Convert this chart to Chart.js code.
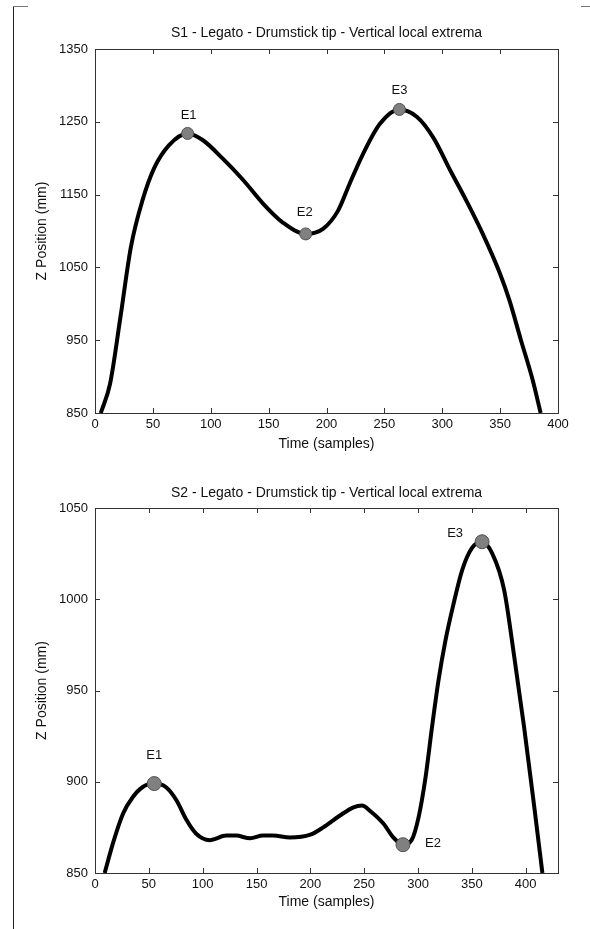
<!DOCTYPE html>
<html>
<head>
<meta charset="utf-8">
<script src="https://cdn.jsdelivr.net/npm/chart.js@4"></script>
<style>
  html, body { margin: 0; padding: 0; background: #fff; }
  body { width: 590px; height: 929px; position: relative; overflow: hidden; }
  canvas { position: absolute; left: 0; }
  #c1 { top: 0; }
  #c2 { top: 465px; }
  .frame { position: absolute; }
</style>
</head>
<body>
<div class="frame" style="left:13px;top:6px;width:1px;height:923px;background:#222"></div>
<div class="frame" style="left:13px;top:6px;width:15px;height:1px;background:#777"></div>
<div class="frame" style="left:581px;top:6px;width:9px;height:1px;background:#777"></div>
<canvas id="c1" width="590" height="465"></canvas>
<canvas id="c2" width="590" height="464"></canvas>
<script>
// S1 curve (time in samples, Z in mm)
const s1Time = [5, 13, 22, 31, 41, 51, 64, 80, 93, 110, 128, 145, 162, 182, 197, 210, 220, 231, 246, 263, 278, 292, 308, 321, 335, 350, 358, 368, 378, 385];
const s1Z = [850, 890, 982, 1078, 1142, 1186, 1218, 1234, 1225, 1200, 1170, 1138, 1112, 1096, 1103, 1128, 1165, 1204, 1247, 1267, 1257, 1229, 1180, 1141, 1096, 1041, 1005, 950, 896, 850];
const s1ExtTime = [80, 182, 263];
const s1ExtZ = [1234, 1096, 1267];

// S2 curve
const s2Time = [9, 16.5, 26, 35, 44, 55, 66, 75.5, 85, 94, 106.5, 122, 131, 144, 156, 165.5, 181, 200, 212, 227.5, 240, 248, 255.5, 268, 277, 286, 294, 300.5, 307, 313, 319, 325.5, 333, 341, 350, 359.5, 369, 380, 389, 398.5, 408, 415.5];
const s2Z = [850, 866, 882.5, 891.5, 897, 899, 897, 890, 879, 871.5, 868, 870.5, 870.5, 869, 870.5, 870.5, 869.5, 871, 875, 881.5, 886, 887, 884, 877, 869.5, 865.5, 868, 880.5, 902.5, 930, 955.5, 977.5, 997.5, 1016, 1028, 1031.5, 1025, 1005, 970, 930, 886, 850];
const s2ExtTime = [55, 286, 359.5];
const s2ExtZ = [899, 865.5, 1031.5];

const extLabels = ['E1', 'E2', 'E3'];
const s1XTicks = [0, 50, 100, 150, 200, 250, 300, 350, 400];
const s1YTicks = [850, 950, 1050, 1150, 1250, 1350];
const s2XTicks = [0, 50, 100, 150, 200, 250, 300, 350, 400];
const s2YTicks = [850, 900, 950, 1000, 1050];

const FONT = 'Arial, "Liberation Sans", Helvetica, sans-serif';

// MATLAB-like box with inward ticks plus extrema labels
const matlabAxes = {
  id: 'matlabAxes',
  afterDraw(chart, args, opts) {
    const ctx = chart.ctx;
    const a = chart.chartArea;
    const xs = chart.scales.x, ys = chart.scales.y;
    ctx.save();
    ctx.strokeStyle = '#333';
    ctx.lineWidth = 1;
    ctx.strokeRect(Math.round(a.left) + 0.5, Math.round(a.top) + 0.5,
      Math.round(a.right - a.left), Math.round(a.bottom - a.top));
    ctx.beginPath();
    xs.ticks.forEach((t, i) => {
      const px = Math.round(xs.getPixelForTick(i)) + 0.5;
      ctx.moveTo(px, a.bottom); ctx.lineTo(px, a.bottom - 5);
      ctx.moveTo(px, a.top); ctx.lineTo(px, a.top + 5);
    });
    ys.ticks.forEach((t, i) => {
      const py = Math.round(ys.getPixelForTick(i)) + 0.5;
      ctx.moveTo(a.left, py); ctx.lineTo(a.left + 5, py);
      ctx.moveTo(a.right, py); ctx.lineTo(a.right - 5, py);
    });
    ctx.stroke();

    ctx.fillStyle = '#111';
    ctx.font = '13px ' + FONT;
    ctx.textAlign = 'center';
    ctx.textBaseline = 'middle';
    opts.times.forEach((t, i) => {
      const px = xs.getPixelForValue(t) + opts.offsets[i][0];
      const py = ys.getPixelForValue(opts.values[i]) + opts.offsets[i][1];
      ctx.fillText(extLabels[i], px, py);
    });
    ctx.restore();
  }
};

function makeChart(id, cfg) {
  const curve = cfg.time.map((t, i) => ({ x: t, y: cfg.z[i] }));
  const ext = cfg.extTime.map((t, i) => ({ x: t, y: cfg.extZ[i] }));
  return new Chart(document.getElementById(id), {
    type: 'scatter',
    data: {
      datasets: [
        {
          data: ext,
          order: 0,
          pointRadius: cfg.markerR,
          pointBackgroundColor: '#808080',
          pointBorderColor: '#505050',
          pointBorderWidth: 1
        },
        {
          data: curve,
          order: 1,
          showLine: true,
          pointRadius: 0,
          borderColor: '#000',
          borderWidth: 4,
          cubicInterpolationMode: 'monotone'
        }
      ]
    },
    options: {
      responsive: false,
      animation: false,
      layout: { padding: { left: 0, right: 32, top: 0, bottom: 0 } },
      plugins: {
        legend: { display: false },
        tooltip: { enabled: false },
        title: {
          display: true,
          fullSize: false,
          text: cfg.title,
          color: '#111',
          font: { family: FONT, size: 14, weight: 'normal' },
          padding: cfg.titlePad
        },
        matlabAxes: {
          times: cfg.extTime,
          values: cfg.extZ,
          offsets: cfg.labelOffsets
        }
      },
      scales: {
        x: {
          type: 'linear',
          min: 0,
          max: cfg.xMax,
          grid: { display: false, drawTicks: false },
          border: { display: false },
          afterBuildTicks: s => { s.ticks = cfg.xTicks.map(v => ({ value: v })); },
          afterFit: s => { s.height = cfg.xAxisH; },
          ticks: {
            color: '#111',
            padding: 4,
            maxRotation: 0,
            font: { family: FONT, size: 13 },
            callback: v => String(v)
          },
          title: {
            display: true,
            text: 'Time (samples)',
            color: '#111',
            font: { family: FONT, size: 14 },
            padding: { top: 0, bottom: cfg.xTitlePadB }
          }
        },
        y: {
          type: 'linear',
          min: cfg.yMin,
          max: cfg.yMax,
          grid: { display: false, drawTicks: false },
          border: { display: false },
          afterBuildTicks: s => { s.ticks = cfg.yTicks.map(v => ({ value: v })); },
          afterFit: s => { s.width = 95; },
          ticks: {
            color: '#111',
            padding: 7,
            font: { family: FONT, size: 13 },
            callback: v => String(v)
          },
          title: {
            display: true,
            text: 'Z Position (mm)',
            color: '#111',
            font: { family: FONT, size: 14 },
            padding: { top: 33.6, bottom: 0 }
          }
        }
      }
    },
    plugins: [matlabAxes]
  });
}

makeChart('c1', {
  title: 'S1 - Legato - Drumstick tip - Vertical local extrema',
  time: s1Time, z: s1Z, extTime: s1ExtTime, extZ: s1ExtZ,
  xTicks: s1XTicks, yTicks: s1YTicks,
  xMax: 400, yMin: 850, yMax: 1350,
  markerR: 6,
  titlePad: { top: 24.6, bottom: 7.6 },
  xAxisH: 52, xTitlePadB: 12.6,
  labelOffsets: [[1, -18], [-1, -21], [0, -19]]
});

makeChart('c2', {
  title: 'S2 - Legato - Drumstick tip - Vertical local extrema',
  time: s2Time, z: s2Z, extTime: s2ExtTime, extZ: s2ExtZ,
  xTicks: s2XTicks, yTicks: s2YTicks,
  xMax: 430, yMin: 850, yMax: 1050,
  markerR: 7,
  titlePad: { top: 19.6, bottom: 6.6 },
  xAxisH: 56, xTitlePadB: 18,
  labelOffsets: [[0, -28], [30, -1], [-27, -8]]
});
</script>
</body>
</html>
